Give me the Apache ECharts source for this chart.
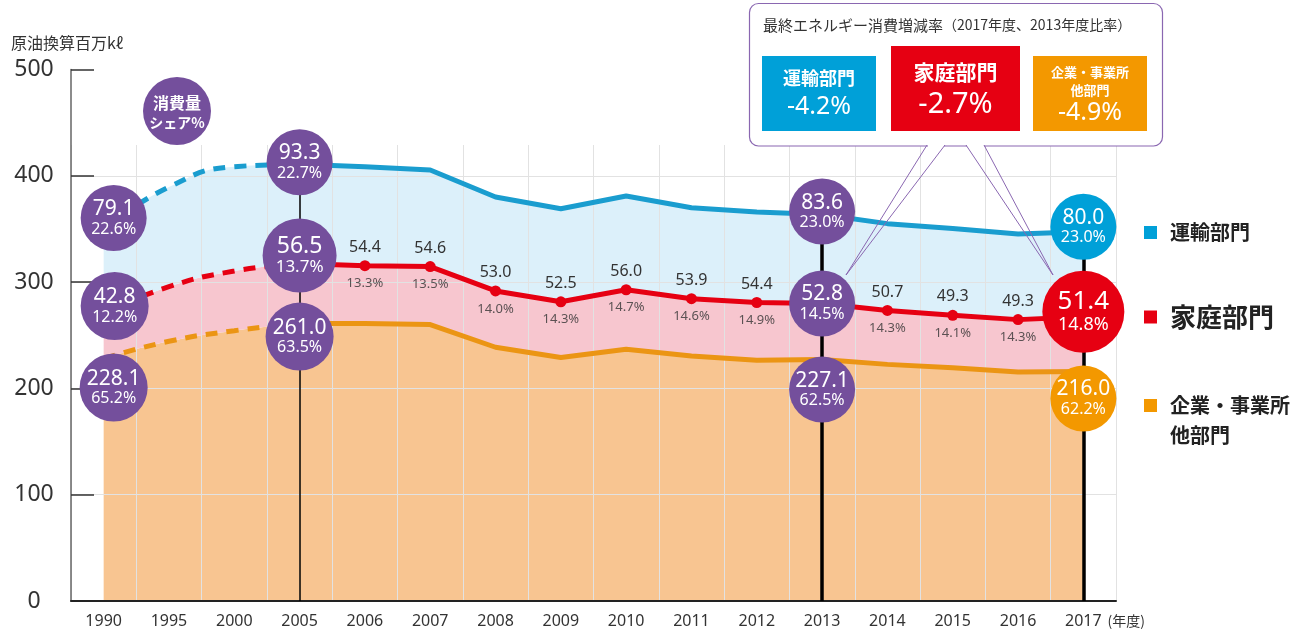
<!DOCTYPE html>
<html><head><meta charset="utf-8">
<script src="https://cdn.jsdelivr.net/npm/echarts@6/dist/echarts.min.js"></script>
<style>html,body{margin:0;padding:0;background:#fff}#c{width:1303px;height:640px}</style>
</head><body><div id="c"></div>
<script>
// ---------- data ----------
const years = ['1990','1995','2000','2005','2006','2007','2008','2009','2010','2011','2012','2013','2014','2015','2016','2017'];
const industry  = [228.1, 244.3, 254.3, 261.0, 261.0, 260.0, 238.7, 229.0, 236.8, 230.5, 226.4, 227.1, 222.6, 219.5, 215.4, 216.0];
const household = [42.8, 51.4, 56.1, 56.5, 54.4, 54.6, 53.0, 52.5, 56.0, 53.9, 54.4, 52.8, 50.7, 49.3, 49.3, 51.4];
const transport = [79.1, 93.8, 98.2, 93.3, 93.1, 90.9, 88.3, 87.5, 88.2, 85.6, 85.2, 83.6, 81.7, 81.7, 80.6, 80.0];
const industryShare  = [65.2, null, null, 63.5, null, null, null, null, null, null, null, 62.5, null, null, null, 62.2];
const householdShare = [12.2, null, null, 13.7, 13.3, 13.5, 14.0, 14.3, 14.7, 14.6, 14.9, 14.5, 14.3, 14.1, 14.3, 14.8];
const transportShare = [22.6, null, null, 22.7, null, null, null, null, null, null, null, 23.0, null, null, null, 23.0];
const yTicks = [0, 100, 200, 300, 400, 500];
const sectorNames = ['企業・事業所他部門', '家庭部門', '運輸部門'];
const boxNames = ['企業・事業所\n他部門', '家庭部門', '運輸部門'];
const changeRate = [-4.9, -2.7, -4.2];
const estimateEnd = 3;          // 1990–2005 drawn dashed
const bubbleIdx = [0, 3, 11, 15];

// ---------- styles ----------
const FONT = "'Noto Sans','Noto Sans CJK JP',sans-serif";
const JP = "'Noto Sans CJK JP','Noto Sans',sans-serif";
const purple = '#744f9c';
const sectorColor = ['#f39800', '#e60012', '#00a0d8'];
const lineColor = ['#eb9514', '#e60012', '#1a9dcf'];
const fillColor = ['#f8c591', '#f7c6cf', '#dcf0fa'];
const sectorVals = [industry, household, transport];
const sectorShares = [industryShare, householdShare, transportShare];
const bubbleOffsets = [
  [[10, 29], [0, 13], [0, 30], [0, 27]],
  [[11, -7], [0, -8], [0, 0], [0, -5]],
  [[10, -11], [0, -2], [0, -3], [0, -5]]
];
const bubbleSizes = [[68, 68, 66, 66], [68, 74, 66, 82], [66, 66, 66, 66]];
const bubbleFonts = [[[21, 16], [21, 16], [21, 16], [21, 16]],
                     [[21, 16], [23, 17], [21, 16], [26, 18]],
                     [[21, 16], [21, 16], [21, 16], [21, 16]]];

const N = years.length;
const cum = [];
sectorVals.forEach((arr, k) => cum.push(arr.map((v, i) => v + (k ? cum[k - 1][i] : 0))));
const total = cum[2];
const part = (arr, from, to) => arr.map((v, i) => (i >= from && i <= to) ? v : null);

const series = [];
for (let k = 0; k < 3; k++) {
  const vals = sectorVals[k];
  series.push({type: 'line', stack: 'areaA', smooth: 0.5, data: part(vals, 0, estimateEnd), symbol: 'none',
    lineStyle: {width: 0}, areaStyle: {color: fillColor[k], opacity: 1}, z: 1, silent: true});
  series.push({type: 'line', stack: 'areaB', data: part(vals, estimateEnd, N - 1), symbol: 'none',
    lineStyle: {width: 0}, areaStyle: {color: fillColor[k], opacity: 1}, z: 1, silent: true});
  series.push({type: 'line', stack: 'lineA', smooth: 0.5, data: part(vals, 0, estimateEnd), symbol: 'none',
    lineStyle: {width: 5, color: lineColor[k], type: [12, 9]}, z: 3, silent: true});
  const isHH = k === 1;
  series.push({type: 'line', name: sectorNames[k], stack: 'lineB',
    data: vals.map((v, i) => i < estimateEnd ? null :
      (isHH ? {value: v, symbol: bubbleIdx.includes(i) ? 'none' : 'circle', label: {show: !bubbleIdx.includes(i)}} : v)),
    symbol: isHH ? 'circle' : 'none', symbolSize: 11, showSymbol: isHH,
    itemStyle: {color: lineColor[k]},
    lineStyle: {width: 5, color: lineColor[k]}, z: 3, silent: true,
    label: isHH ? {show: true, position: 'top', distance: 5, fontSize: 16, color: '#333', fontFamily: FONT,
      formatter: p => household[p.dataIndex].toFixed(1)} : {show: false}
  });
}
// share labels under the household points
const shareIdx = years.map((y, i) => i).filter(i => i > estimateEnd && !bubbleIdx.includes(i));
series.push({type: 'scatter', data: shareIdx.map(i => [i, cum[1][i]]), symbolSize: 11,
  itemStyle: {color: 'rgba(0,0,0,0)'}, z: 4, silent: true,
  label: {show: true, position: 'bottom', distance: 6, fontSize: 13, color: '#333', fontFamily: FONT,
    formatter: p => householdShare[shareIdx[p.dataIndex]].toFixed(1) + '%'}});
// bubbles
for (let k = 0; k < 3; k++) {
  const s = {type: 'scatter', z: 10, silent: true,
    data: bubbleIdx.map((i, j) => ({
      value: [i, cum[k][i]],
      symbolSize: bubbleSizes[k][j],
      symbolOffset: bubbleOffsets[k][j],
      itemStyle: {color: j === bubbleIdx.length - 1 ? sectorColor[k] : purple, opacity: 1},
      label: {
        rich: {v: {fontSize: bubbleFonts[k][j][0], color: '#fff', fontFamily: FONT, lineHeight: bubbleFonts[k][j][0] + 1},
               p: {fontSize: bubbleFonts[k][j][1], color: '#fff', fontFamily: FONT, lineHeight: bubbleFonts[k][j][1] + 2}}}
    })),
    label: {show: true, position: 'inside',
      formatter: p => '{v|' + sectorVals[k][bubbleIdx[p.dataIndex]].toFixed(1) + '}\n{p|' +
        sectorShares[k][bubbleIdx[p.dataIndex]].toFixed(1) + '%}'}
  };
  if (k === 2) {
    s.markLine = {silent: true, symbol: ['none', 'none'], label: {show: false}, z: 5, animation: false,
      lineStyle: {color: '#000', type: 'solid'},
      data: bubbleIdx.slice(1).map((i, j) => [
        {coord: [years[i], 0], lineStyle: {width: j === 0 ? 1.5 : 3.5, color: '#000', type: 'solid'}},
        {coord: [years[i], total[i]]}])};
  }
  series.push(s);
}

// ---------- callout graphic ----------
const boxes = [
  {k: 2, x: 762, y: 56, w: 114, h: 75, nameSize: 18, rateSize: 25, nameY: 78, rateY: 107},
  {k: 1, x: 891, y: 46, w: 129, h: 85, nameSize: 21, rateSize: 29, nameY: 72, rateY: 105},
  {k: 0, x: 1033, y: 56, w: 114, h: 75, nameSize: 13, rateSize: 25, nameY: 81, rateY: 113}
];
const graphic = [
  {type: 'rect', z: 100, shape: {x: 749.5, y: 3.5, width: 413, height: 142.5, r: 9},
    style: {fill: '#fff', stroke: '#8a67b1', lineWidth: 1.2}},
  {type: 'line', z: 101, shape: {x1: 928, y1: 146, x2: 944, y2: 146}, style: {stroke: '#fff', lineWidth: 3}},
  {type: 'line', z: 101, shape: {x1: 967, y1: 146, x2: 984, y2: 146}, style: {stroke: '#fff', lineWidth: 3}},
  {type: 'polyline', z: 102, shape: {points: [[927, 145], [846, 275], [945, 145]]}, style: {stroke: '#8a67b1', lineWidth: 1, fill: null}},
  {type: 'polyline', z: 102, shape: {points: [[966, 145], [1053, 275], [984, 145]]}, style: {stroke: '#8a67b1', lineWidth: 1, fill: null}},
  {type: 'text', z: 103, x: 763, y: 25, style: {
    text: '{a|最終エネルギー消費増減率}{b|（2017年度、2013年度比率）}', verticalAlign: 'middle',
    rich: {a: {fontSize: 15, fill: '#333', fontFamily: JP}, b: {fontSize: 14, fill: '#333', fontFamily: JP}}}},
  // bubble legend
  {type: 'circle', z: 100, shape: {cx: 177, cy: 111, r: 34}, style: {fill: purple}},
  {type: 'text', z: 101, x: 177, y: 103, style: {text: '消費量', fill: '#fff', fontSize: 16, fontWeight: 'bold', fontFamily: JP, align: 'center', verticalAlign: 'middle'}},
  {type: 'text', z: 101, x: 177, y: 123, style: {text: 'シェア%', fill: '#fff', fontSize: 14, fontWeight: 'bold', fontFamily: JP, align: 'center', verticalAlign: 'middle'}}
];
boxes.forEach(b => {
  graphic.push({type: 'rect', z: 101, shape: {x: b.x, y: b.y, width: b.w, height: b.h}, style: {fill: sectorColor[b.k]}});
  graphic.push({type: 'text', z: 102, x: b.x + b.w / 2, y: b.nameY, style: {text: boxNames[b.k], fill: '#fff',
    fontSize: b.nameSize, fontWeight: 'bold', fontFamily: JP, align: 'center', verticalAlign: 'middle', lineHeight: 18}});
  graphic.push({type: 'text', z: 102, x: b.x + b.w / 2, y: b.rateY, style: {text: changeRate[b.k].toFixed(1) + '%', fill: '#fff',
    fontSize: b.rateSize, fontFamily: FONT, align: 'center', verticalAlign: 'middle'}});
});

// ---------- legends ----------
const legendBase = {orient: 'vertical', left: 1144, padding: 0, itemWidth: 13, itemHeight: 13, selectedMode: false,
  itemStyle: {borderWidth: 0}};
const legends = [
  Object.assign({}, legendBase, {top: 222.5, data: [{name: '運輸部門', icon: 'rect', itemStyle: {color: sectorColor[2], borderWidth: 0}}],
    textStyle: {fontSize: 20, fontWeight: 'bold', color: '#222', fontFamily: JP, padding: [0, 0, 0, 8]}}),
  Object.assign({}, legendBase, {top: 304, data: [{name: '家庭部門', icon: 'rect', itemStyle: {color: sectorColor[1], borderWidth: 0}}],
    textStyle: {fontSize: 26, fontWeight: 'bold', color: '#222', fontFamily: JP, padding: [0, 0, 0, 8]}}),
  Object.assign({}, legendBase, {top: 390.5, itemHeight: 43,
    data: [{name: '企業・事業所他部門', icon: 'path://M0,0h13v13h-13z M0,43h0.01v0.01h-0.01z', itemStyle: {color: sectorColor[0], borderWidth: 0}}],
    formatter: () => '企業・事業所\n他部門',
    textStyle: {fontSize: 20, fontWeight: 'bold', color: '#222', fontFamily: JP, lineHeight: 30, padding: [0, 0, 0, 8]}})
];

const option = {
  animation: false,
  textStyle: {fontFamily: FONT},
  title: {text: '原油換算百万kℓ', left: 11, top: 35, padding: 0,
    textStyle: {fontSize: 16, fontWeight: 'normal', color: '#333', fontFamily: JP}},
  legend: legends,
  grid: [
    {left: 71, right: 187, top: 69.5, bottom: 39},
    {left: 71, right: 187, top: 145, bottom: 39}
  ],
  xAxis: [
    {type: 'category', data: years, boundaryGap: true, gridIndex: 0, z: 3,
      axisLine: {lineStyle: {color: '#222', width: 2}},
      axisTick: {inside: true, length: 12, interval: 0, lineStyle: {color: '#333'}},
      axisLabel: {interval: 0, fontSize: 16, color: '#333', margin: 12, fontFamily: FONT},
      splitLine: {show: false},
      name: '(年度)', nameLocation: 'end', nameGap: -20,
      nameTextStyle: {fontSize: 14, color: '#333', fontFamily: JP, verticalAlign: 'top', padding: [13, 0, 0, 0]}},
    {type: 'value', gridIndex: 1, min: 0, max: N, interval: 1, z: 2,
      axisLine: {show: false}, axisTick: {show: false}, axisLabel: {show: false},
      splitLine: {show: true, lineStyle: {color: '#e2e2e2', width: 1}}}
  ],
  yAxis: [
    {type: 'value', gridIndex: 0, min: yTicks[0], max: yTicks[yTicks.length - 1], interval: yTicks[1] - yTicks[0], z: 2,
      axisLine: {show: true, lineStyle: {color: '#666', width: 1.5}},
      axisTick: {show: true, inside: true, length: 23, lineStyle: {color: '#333', width: 1.5}},
      axisLabel: {fontSize: 23, color: '#333', align: 'center', margin: 37, fontFamily: FONT},
      splitLine: {show: true, lineStyle: {color: ['#e2e2e2', '#e2e2e2', '#e2e2e2', '#e2e2e2', '#e2e2e2', 'rgba(0,0,0,0)'], width: 1}}},
    {type: 'value', gridIndex: 1, min: 0, max: 1, show: false}
  ],
  graphic: graphic,
  series: series
};
const chart = echarts.init(document.getElementById('c'));
chart.setOption(option);
</script>
</body></html>
